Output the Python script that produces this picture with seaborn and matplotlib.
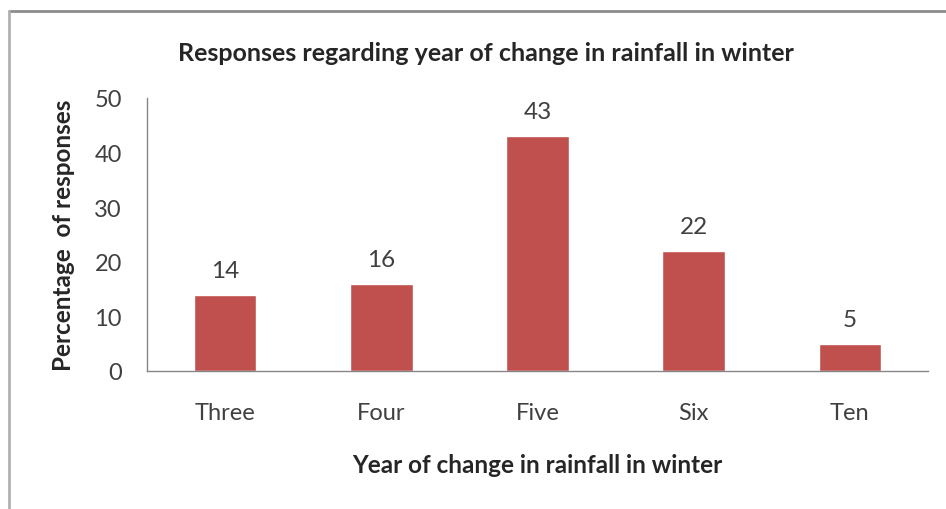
import matplotlib
matplotlib.use('Agg')
import matplotlib.pyplot as plt
import seaborn as sns
import pandas as pd
from matplotlib.lines import Line2D

# chart data
years = ['Three', 'Four', 'Five', 'Six', 'Ten']
responses = [14, 16, 43, 22, 5]

df = pd.DataFrame({'year': years, 'pct': responses})

sns.set_style('white')
plt.rcParams['font.family'] = ['Lato', 'DejaVu Sans']

fig = plt.figure(figsize=(9.46, 5.10), dpi=100)
ax = fig.add_axes([0.1554, 0.2706, 0.8256, 0.5354])

sns.barplot(data=df, x='year', y='pct', color='#C0504D', saturation=1,
            width=0.4, ax=ax)

# value labels
for c in ax.containers:
    ax.bar_label(c, padding=10, fontsize=17.5, color='#404040')

ax.set_ylim(0, 50)
ax.set_yticks(range(0, 51, 10))
ax.set_xlim(-0.5, len(years) - 0.5)
ax.tick_params(axis='y', length=4, width=1, color='#868686', labelsize=17,
               labelcolor='#404040', pad=14)
ax.tick_params(axis='x', length=0, labelsize=17, labelcolor='#404040', pad=22)

for s in ['top', 'right']:
    ax.spines[s].set_visible(False)
for s in ['left', 'bottom']:
    ax.spines[s].set_color('#868686')
    ax.spines[s].set_linewidth(1)

ax.set_xlabel('Year of change in rainfall in winter', fontsize=17.5,
              fontweight='bold', color='#262626', labelpad=22)
ax.set_ylabel('Percentage  of responses', fontsize=17.5, fontweight='bold',
              color='#262626', labelpad=14)
fig.text(0.514, 0.895, 'Responses regarding year of change in rainfall in winter',
         ha='center', va='center', fontsize=18, fontweight='bold',
         color='#262626')

# outer frame
fig.add_artist(Line2D([0.01, 1.0], [0.976, 0.976], color='#8c8c8c', lw=2))
fig.add_artist(Line2D([0.01, 0.01], [0.0, 0.976], color='#b0b0b0', lw=2))

fig.savefig('out.png', dpi=100)
